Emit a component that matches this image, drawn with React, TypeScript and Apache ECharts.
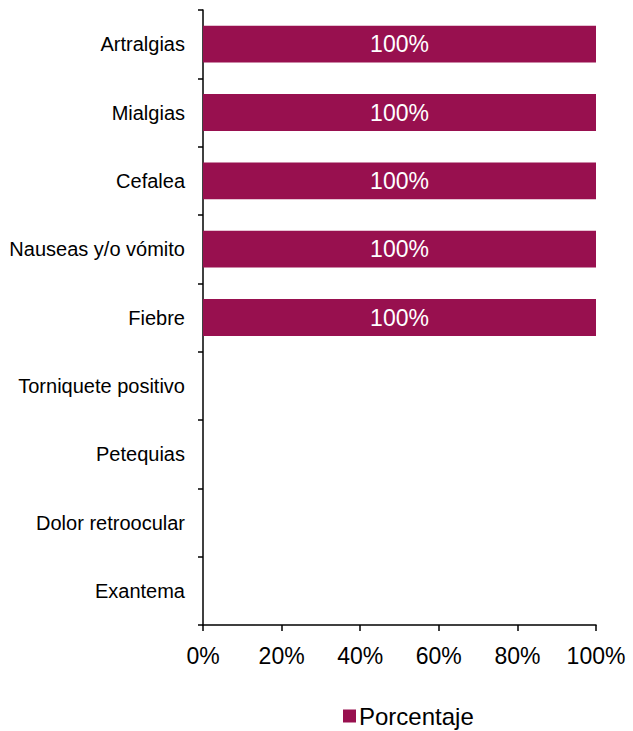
import React, { useEffect, useRef } from "react";
import * as echarts from "echarts";

// top-to-bottom order as shown
const categories = [
  "Artralgias",
  "Mialgias",
  "Cefalea",
  "Nauseas y/o vómito",
  "Fiebre",
  "Torniquete positivo",
  "Petequias",
  "Dolor retroocular",
  "Exantema",
];
const values = [100, 100, 100, 100, 100, 0, 0, 0, 0];
const seriesName = "Porcentaje";

const FONT = "'Liberation Sans', Arial, sans-serif";

export default function App() {
  const ref = useRef<HTMLDivElement>(null);
  useEffect(() => {
    if (!ref.current) return;
    const chart = echarts.init(ref.current, undefined, { renderer: "svg" });
    const cats = [...categories].reverse();
    const vals = [...values].reverse();
    chart.setOption({
      animation: false,
      backgroundColor: "#ffffff",
      textStyle: { fontFamily: FONT },
      grid: { left: 203, right: 37, top: 10, bottom: 106, containLabel: false },
      xAxis: {
        type: "value",
        min: 0,
        max: 100,
        interval: 20,
        splitLine: { show: false },
        axisLine: { show: true, lineStyle: { color: "#000", width: 1.5 } },
        axisTick: { show: true, length: 6, lineStyle: { color: "#000", width: 1.5 } },
        axisLabel: {
          formatter: "{value}%",
          color: "#000",
          fontSize: 23,
          fontFamily: FONT,
          margin: 19,
        },
      },
      yAxis: {
        type: "category",
        data: cats,
        axisLine: { show: true, lineStyle: { color: "#000", width: 1.5 } },
        axisTick: { show: true, length: 5, lineStyle: { color: "#000", width: 1.5 } },
        axisLabel: { color: "#000", fontSize: 20, fontFamily: FONT, margin: 18 },
      },
      legend: {
        show: true,
        left: 338,
        top: 699,
        icon: "rect",
        itemWidth: 13,
        itemHeight: 13,
        itemGap: 5,
        textStyle: { fontSize: 24, color: "#000", fontFamily: FONT, padding: [0, 0, 0, -2] },
        data: [seriesName],
      },
      series: [
        {
          name: seriesName,
          type: "bar",
          data: vals,
          barCategoryGap: "46%",
          itemStyle: { color: "#98104F" },
          label: {
            show: true,
            position: "inside",
            color: "#ffffff",
            fontSize: 23,
            fontFamily: FONT,
            formatter: (p: any) => (p.value ? p.value + "%" : ""),
          },
        },
      ],
    });
    return () => chart.dispose();
  }, []);
  return (
    <div
      ref={ref}
      style={{ position: "fixed", left: 0, top: 0, width: 633, height: 731 }}
    />
  );
}
